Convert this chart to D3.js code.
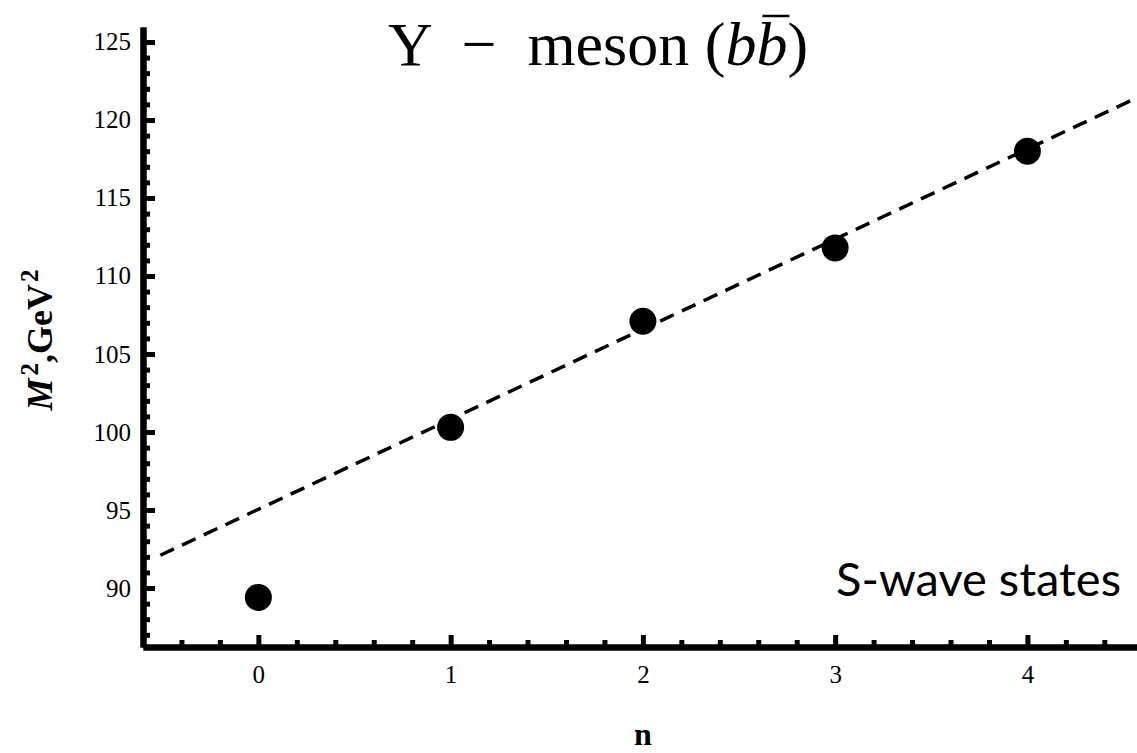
<!DOCTYPE html>
<html>
<head>
<meta charset="utf-8">
<script src="https://cdn.jsdelivr.net/npm/d3@7"></script>
<style>
  html, body { margin: 0; padding: 0; background: #fff; }
  svg { display: block; }
</style>
</head>
<body>
<svg id="chart"></svg>
<script>
// --- Data ---
const nValues = [0, 1, 2, 3, 4];
const massSq = [89.4, 100.3, 107.1, 111.8, 118.0];
// dashed fit line, two end points
const fitN = [-0.51, 4.6];
const fitM2 = [92.1, 121.6];

const yMajor = [90, 95, 100, 105, 110, 115, 120, 125];
const yMinor = [87, 88, 89, 91, 92, 93, 94, 96, 97, 98, 99, 101, 102, 103, 104,
                106, 107, 108, 109, 111, 112, 113, 114, 116, 117, 118, 119,
                121, 122, 123, 124];
const xMajor = [0, 1, 2, 3, 4];
const xMinor = [-0.4, -0.2, 0.2, 0.4, 0.6, 0.8, 1.2, 1.4, 1.6, 1.8, 2.2, 2.4,
                2.6, 2.8, 3.2, 3.4, 3.6, 3.8, 4.2, 4.4];

// --- Sizing ---
const width = 1137, height = 753;
const svg = d3.select("#chart").attr("width", width).attr("height", height);

const x = d3.scaleLinear().domain([-0.6, 4.57]).range([143, 1137]);
const y = d3.scaleLinear().domain([86.22, 125.96]).range([647, 27]);

const serif = "'Liberation Serif', 'DejaVu Serif', serif";

// --- Axes ---
function styleAxis(g) {
    g.select(".domain").attr("stroke", "#000").attr("stroke-width", 6);
    g.selectAll(".tick line").attr("stroke", "#000").attr("stroke-width", 5);
    g.selectAll(".tick text").attr("fill", "#000")
        .style("font-family", serif).style("font-size", "25px");
}

svg.append("g")
    .attr("transform", "translate(143,0)")
    .call(d3.axisLeft(y).tickValues(yMinor).tickSize(-7).tickSizeOuter(0).tickFormat(""))
    .call(styleAxis);

svg.append("g")
    .attr("transform", "translate(143,0)")
    .call(d3.axisLeft(y).tickValues(yMajor).tickSize(-12).tickSizeOuter(0).tickPadding(12))
    .call(styleAxis);

svg.append("g")
    .attr("transform", "translate(0,647)")
    .call(d3.axisBottom(x).tickValues(xMinor).tickSize(-7).tickSizeOuter(0).tickFormat(""))
    .call(styleAxis);

svg.append("g")
    .attr("transform", "translate(0,647)")
    .call(d3.axisBottom(x).tickValues(xMajor).tickSize(-12).tickSizeOuter(0)
        .tickPadding(18).tickFormat(d3.format("d")))
    .call(styleAxis);

// --- Fit line ---
const fitData = fitN.map((n, i) => ({ n, m2: fitM2[i] }));
svg.append("path")
    .datum(fitData)
    .attr("fill", "none")
    .attr("stroke", "#000")
    .attr("stroke-width", 3.5)
    .attr("stroke-dasharray", "15,9")
    .attr("d", d3.line().x(d => x(d.n)).y(d => y(d.m2)));

// --- Points ---
svg.append("g")
    .selectAll("circle")
    .data(nValues.map((n, i) => ({ n, m2: massSq[i] })))
    .join("circle")
    .attr("cx", d => x(d.n))
    .attr("cy", d => y(d.m2))
    .attr("r", 13.5)
    .attr("fill", "#000");

// --- Title ---
const title = svg.append("text")
    .attr("x", 598)
    .attr("y", 65)
    .attr("text-anchor", "middle")
    .style("font-family", serif)
    .style("font-size", "62px")
    .attr("xml:space", "preserve");
title.append("tspan").text("\u03A5  \u2212  meson (");
title.append("tspan").style("font-style", "italic").text("b");
title.append("tspan").style("font-style", "italic").text("b");
title.append("tspan").text(")");

// overline above the second b
const fullText = title.text();
const ext = title.node().getExtentOfChar(fullText.length - 2);
svg.append("line")
    .attr("x1", ext.x + 6).attr("x2", ext.x + ext.width + 2)
    .attr("y1", ext.y + 6).attr("y2", ext.y + 6)
    .attr("stroke", "#000").attr("stroke-width", 2.5);

// --- Axis labels ---
const yLab = svg.append("text")
    .attr("transform", "translate(52,340) rotate(-90)")
    .attr("text-anchor", "middle")
    .style("font-family", serif)
    .style("font-size", "36px")
    .style("font-weight", "bold");
yLab.append("tspan").style("font-style", "italic").text("M");
yLab.append("tspan").attr("dy", -14).attr("dx", 3).style("font-size", "25px").text("2");
yLab.append("tspan").attr("dy", 14).text(",GeV");
yLab.append("tspan").attr("dy", -14).attr("dx", 2).style("font-size", "25px").text("2");

svg.append("text")
    .attr("x", 643)
    .attr("y", 745)
    .attr("text-anchor", "middle")
    .style("font-family", serif)
    .style("font-size", "32px")
    .style("font-weight", "bold")
    .text("n");

// --- Annotation ---
svg.append("text")
    .attr("x", 1121)
    .attr("y", 596)
    .attr("text-anchor", "end")
    .style("font-family", "Lato, 'Open Sans', sans-serif")
    .style("font-size", "47px")
    .text("S-wave states");
</script>
</body>
</html>
